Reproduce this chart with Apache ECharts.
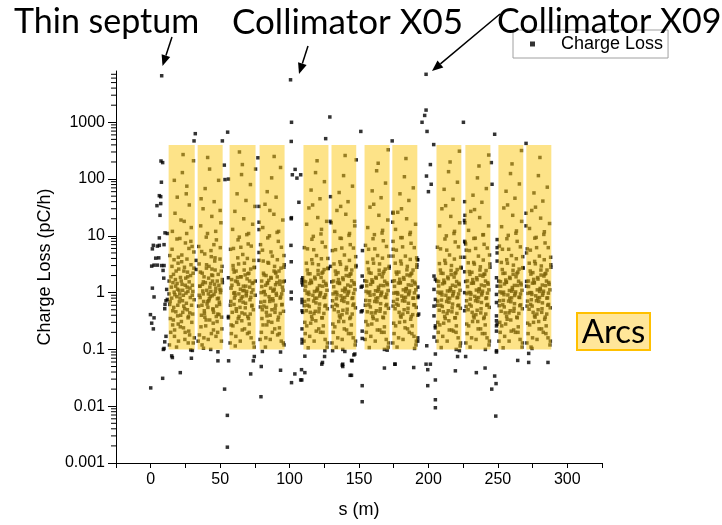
<!DOCTYPE html>
<html>
<head>
<meta charset="utf-8">
<script src="https://cdn.jsdelivr.net/npm/echarts@6/dist/echarts.min.js"></script>
<style>
  html, body { margin: 0; padding: 0; background: #fff; }
  #chart { width: 722px; height: 525px; }
</style>
</head>
<body>
<div id="chart"></div>
<script>
// Axis ranges and tick values
const sRange = [-25, 325];
const lossRange = [0.001, 8000];
const sTickStep = 25;
const decadeTicks = [0.001, 0.01, 0.1, 1, 10, 100, 1000];
const minorSteps = [2, 3, 4, 5, 6, 7, 8, 9];

// Arc sections [s start, s end] and the loss span they cover
const arcBands = [
  [12.9, 31.7], [33.8, 51.8], [56.8, 75.5], [78.4, 96.4],
  [110, 128], [130.2, 148], [154, 172], [174, 192],
  [205.8, 223.7], [226.6, 244.6], [250.4, 268.3], [270.5, 288.5]
];
const arcLossSpan = [0.1, 400];

// Losses outside the arcs: injection septum, collimators, straight sections
const lossStraights = [
  [7.9,6600],[100.7,5600],[101.4,1000],[101.2,460],[129,1240],[126,515],[32.1,630],[31.2,470],
  [55.4,670],[51.6,470],[77.2,237],[75.5,150],[7.4,208],[8.6,195],[7.7,88],[6.2,51],[7.2,49],
  [7.2,37],[4.5,34],[6.7,23],[10.3,11.3],[12,11],[6.2,9.2],[1.9,6.8],[1.2,5.9],[53,176],[53.5,98],
  [104,148],[102,119],[105.3,104],[108,119],[106.7,39],[101.2,20],[101,6.8],[129.5,49],[129.5,18],
  [130,17],[198.3,7000],[198.3,1640],[197.3,1320],[195.4,1000],[199,690],[203.8,405],[151.3,690],
  [173.9,470],[171,328],[148,218],[225.2,1000],[247.7,615],[270.3,425],[267,318],[222.3,310],
  [243.4,265],[245.3,195],[245.8,81],[201.4,180],[198.6,113],[202,81],[200,60],[226.1,40],
  [226.3,23],[226,18.7],[226.3,17],[226.5,7.7],[226.8,7.2],[270.3,25],[270.3,15],[174.6,26],
  [174.3,17.4],[146.8,18],[4.8,6.6],[6.2,6.8],[9.6,7],[3.6,4.05],[5.8,4.1],[0.7,2.93],[2.4,3.05],
  [4.8,3.05],[7.9,3.0],[9.6,3.0],[8.9,2.46],[9.4,1.8],[11.5,1.14],[12.0,0.76],[10.3,0.62],
  [11.0,0.72],[10.1,0.52],[1.2,1.2],[2.4,0.84],[-0.2,0.41],[2.4,0.36],[0.7,0.29],[1.9,0.23],
  [11.0,0.17],[10.1,0.136],[9.6,0.104],[9.1,0.1],[15.1,0.077],[15.6,0.072],[28.8,0.098],[30,0.096],
  [29.3,0.07],[21.3,0.039],[8.6,0.031],[0,0.021],[32.6,3.7],[32.6,2.56],[43.2,0.1],[48.4,0.091],
  [48.4,0.063],[53.2,0.02],[55.2,0.0069],[55.2,0.0019],[56.1,0.063],[72,0.037],[73.9,0.063],
  [74.6,0.075],[79.6,0.05],[79.4,0.0147],[80.4,0.092],[93.5,0.09],[93.5,0.043],[101.2,3.5],
  [101.2,1.02],[101.2,0.78],[103.8,0.037],[108.6,0.044],[108.8,0.029],[111,0.039],[108,0.029],
  [111,0.076],[109,0.48],[109,0.23],[109,0.15],[109,0.13],[109,0.76],[109,0.67],[109,1.7],[109,1.5],
  [125.4,0.095],[125.2,0.075],[123.7,0.059],[123.2,0.055],[129.5,2.9],[138.3,0.1],[138.3,0.055],
  [138.3,0.05],[143.6,0.035],[131,0.095],[146.3,0.08],[145,0.063],[144.6,0.035],[152.3,0.023],
  [152.3,0.012],[152.3,0.48],[152.3,0.21],[152.3,0.156],[152.3,1.96],[152.3,1.3],[168.3,0.1],
  [170.3,0.097],[168.3,0.047],[175.8,0.055],[189.4,0.048],[191.9,3.8],[192.5,0.87],[193,0.42],
  [198.8,0.116],[198.3,0.055],[201.4,0.055],[199.5,0.044],[199.5,0.023],[205,0.083],[205,0.029],
  [205,0.013],[205,0.0094],[204,1.96],[204,1.14],[204,0.58],[204,0.39],[204,0.165],[220,0.1],
  [221,0.075],[222.3,0.095],[219.4,0.042],[226.8,0.075],[234.5,0.039],[240.8,0.047],[241,0.1],
  [247.7,0.034],[248.7,0.025],[245.6,0.02],[248.5,0.0067],[249,1.83],[249,0.93],[249,0.67],
  [249,0.39],[249,0.32],[249,0.26],[249,0.21],[249,0.095],[249,0.09],[264.3,0.064],[272.2,0.085],
  [272.2,0.059],[274.6,0.104],[286.1,0.059],[226.1,4.2],[226.1,2.33],[226.1,1.0],[226.1,0.48],
  [226.1,8],[205,1.71],[205,0.76],[205,0.26],[205,0.24],[101.3,20.9],[78,33],[78,17.4],[78,12.9],
  [78,3.7],[78,5.1],[56,100],[56,1.83],[56,0.38],[56,0.36],[101.4,0.026],[109.5,1.83],[109.5,1.36],
  [109.5,0.45],[139.8,0.092],[147,0.083],[144.6,0.064],[137.9,0.053],[151.6,1.25],[151.6,0.46],
  [152.5,5.5],[174.6,25],[174.6,8],[174.6,4.4],[176,0.055],[190,0.104],[192.3,3.8],[192.3,1.25],
  [192.3,0.82],[192.3,0.4],[192.3,0.16],[192.3,0.14],[249.5,8.6],[249.5,6.2],[249.5,5.0],
  [249.5,3.6],[249.5,1.3],[249.5,0.28],[270.7,5.0],[270.7,1.3]
];

// Losses along the arcs, one list per arc section
const lossArc1 = [[13.5,0.12],[14.2,0.35],[15.1,0.8],[16.0,1.5],[17.2,0.22],[18.3,2.4],[19.5,0.6],[20.4,1.1],[21.6,0.4],[22.3,3.5],[23.5,0.9],[24.6,0.15],[25.2,1.8],[26.4,0.5],[27.5,6],[28.3,1.2],[29.6,0.3],[30.5,2.2],[31.2,0.75],[13.8,4.5],[15.6,12],[17.5,25],[19.1,48],[21.0,9],[22.8,130],[24.1,18],[26.0,75],[27.8,35],[29.2,14],[30.8,210],[14.6,1.9],[16.6,0.55],[18.0,1.3],[19.8,0.28],[20.9,0.95],[22.0,1.6],[23.1,0.45],[24.3,2.8],[25.7,0.65],[26.8,1.05],[28.0,0.18],[29.0,3.1],[30.2,0.42],[14.0,0.7],[15.3,2.9],[16.3,0.33],[17.8,1.7],[18.8,0.85],[19.9,4.2],[21.3,0.25],[22.6,1.4],[23.8,0.58],[25.0,7.5],[26.2,1.25],[27.2,0.38],[28.7,2.0],[29.9,0.9],[31.0,5.2],[16.8,3.8],[20.2,2.6],[24.8,0.2],[27.0,0.13],[18.6,0.11],[21.8,19],[25.6,55],[17.0,95],[28.9,8],[23.3,270],[15.9,0.48],[19.3,1.15],[22.9,0.72],[26.6,1.9],[30.0,1.35],[13.2,0.95],[31.4,0.16],
  [13.7,0.62],[14.9,1.25],[15.8,0.27],[16.4,2.1],[17.4,0.92],[18.1,0.46],[19.0,1.45],[19.7,3.3],[20.6,0.69],[21.4,1.85],[22.1,0.31],[23.0,1.1],[23.9,2.4],[24.4,0.52],[25.4,0.98],[26.1,3.9],[26.9,0.36],[27.7,1.55],[28.5,0.82],[29.4,0.6],[30.3,1.05],[31.1,2.7],[14.4,0.2],[17.1,0.17],[20.0,0.14],[23.6,0.24],[27.4,0.21],[30.6,0.13],[15.4,5.8],[18.9,8.8],[22.4,4.6],[25.9,11],[29.8,6.5],[16.9,1.02],[21.1,0.8],[24.9,1.35],[28.1,0.44],[19.4,0.39],[26.5,2.3],[13.3,1.6]];
const lossArc2 = [[34.2,0.14],[35.0,0.9],[35.8,2.3],[36.5,0.4],[37.3,1.4],[38.1,0.7],[38.9,4.8],[39.6,0.26],[40.4,1.1],[41.2,0.55],[42.0,2.9],[42.9,0.85],[43.7,0.19],[44.5,1.6],[45.3,0.45],[46.1,3.6],[46.9,1.2],[47.8,0.31],[48.6,2.1],[49.4,0.68],[50.2,1.0],[51.0,0.37],[51.5,1.7],[34.6,6.5],[36.0,15],[37.7,30],[39.2,68],[40.9,11],[42.4,150],[44.0,22],[45.7,40],[47.3,8.5],[48.9,95],[50.5,17],[35.3,1.3],[36.9,0.6],[38.4,1.9],[39.9,0.33],[41.5,0.95],[43.1,1.45],[44.8,0.52],[46.4,2.5],[48.0,0.78],[49.8,1.15],[51.2,0.23],[34.9,3.2],[37.0,0.12],[38.6,0.48],[40.1,2.7],[41.8,0.72],[43.4,5.5],[45.0,0.29],[46.6,1.05],[48.3,0.42],[49.9,3.9],[35.6,0.82],[37.9,1.55],[40.6,0.63],[42.6,1.25],[44.2,0.88],[47.0,0.17],[49.1,1.35],[50.8,2.4],[36.3,45],[41.0,240],[45.5,7],[50.0,28],[38.0,0.105],[43.9,2.05],[47.5,0.58],
  [34.5,0.58],[35.5,1.3],[36.2,0.25],[37.1,2.2],[37.8,0.95],[38.7,0.43],[39.4,1.5],[40.2,3.1],[41.0,0.7],[41.7,1.8],[42.5,0.33],[43.3,1.05],[44.1,2.6],[44.9,0.5],[45.6,0.93],[46.3,4.1],[47.2,0.38],[47.9,1.6],[48.8,0.8],[49.6,0.62],[50.4,1.1],[51.3,2.9],[35.1,0.18],[38.3,0.16],[41.4,0.15],[45.2,0.22],[48.2,0.2],[50.9,0.14],[36.7,5.3],[40.0,9.5],[43.6,4.3],[46.8,12],[50.1,6.2],[37.5,1.07],[42.2,0.78],[46.0,1.4],[49.2,0.41],[39.0,0.37],[44.6,2.0],[51.6,1.5]];
const lossArc3 = [[57.2,0.13],[57.9,1.2],[58.7,0.45],[59.5,2.6],[60.3,0.8],[61.1,1.6],[61.9,0.3],[62.7,4.1],[63.5,0.95],[64.3,0.55],[65.1,1.9],[65.9,0.22],[66.7,1.3],[67.5,3.3],[68.3,0.65],[69.1,1.05],[69.9,0.38],[70.7,2.2],[71.5,0.75],[72.3,0.16],[73.1,1.45],[73.9,0.5],[74.7,2.8],[75.2,0.9],[57.5,5.8],[59.0,13],[60.6,27],[62.2,55],[63.8,9.5],[65.4,120],[67.0,20],[68.6,42],[70.2,7.2],[71.8,80],[73.4,16],[75.0,33],[58.3,1.7],[60.0,0.62],[61.5,2.4],[63.0,0.35],[64.6,1.15],[66.2,0.85],[67.8,0.42],[69.4,1.75],[71.0,0.28],[72.6,1.0],[74.2,3.7],[58.0,0.27],[59.8,0.98],[61.6,0.52],[63.2,1.4],[64.9,6.3],[66.5,0.68],[68.0,2.05],[69.7,0.19],[71.3,1.25],[72.9,0.6],[74.5,0.11],[59.3,3.0],[62.5,1.85],[65.7,0.44],[68.9,0.88],[72.0,2.6],[60.9,0.115],[66.0,180],[70.5,11],[63.9,300],[73.7,1.5],[57.7,0.7],[67.2,1.1],
  [57.4,0.6],[58.5,1.35],[59.2,0.26],[60.1,2.3],[60.8,0.9],[61.7,0.47],[62.4,1.55],[63.3,3.2],[64.1,0.72],[64.8,1.9],[65.6,0.32],[66.4,1.08],[67.3,2.5],[68.1,0.54],[68.8,0.96],[69.6,4.0],[70.4,0.35],[71.2,1.6],[72.1,0.83],[72.8,0.58],[73.6,1.12],[74.4,2.75],[58.1,0.19],[61.3,0.17],[64.5,0.14],[67.6,0.23],[70.9,0.2],[74.0,0.13],[59.6,6],[62.9,8.5],[66.3,4.7],[69.2,10.5],[72.4,6.6],[60.5,1.0],[65.2,0.8],[68.5,1.3],[71.7,0.42],[63.6,0.38],[70.0,2.15],[75.3,1.6]];
const lossArc4 = [[78.8,0.15],[79.6,1.0],[80.4,0.5],[81.2,2.2],[82.0,0.7],[82.8,1.35],[83.6,0.27],[84.4,3.4],[85.2,0.85],[86.0,0.4],[86.8,1.8],[87.6,0.2],[88.4,1.1],[89.2,2.9],[90.0,0.6],[90.8,1.5],[91.6,0.33],[92.4,2.4],[93.2,0.8],[94.0,0.14],[94.8,1.25],[95.6,0.47],[96.1,3.1],[79.1,7],[80.7,14],[82.3,36],[83.9,60],[85.5,10],[87.1,105],[88.7,24],[90.3,48],[91.9,8],[93.5,160],[95.1,19],[79.9,1.6],[81.5,0.58],[83.1,2.0],[84.7,0.31],[86.3,1.2],[87.9,0.78],[89.5,0.45],[91.1,1.9],[92.7,0.24],[94.3,0.95],[95.9,4.5],[80.1,0.35],[81.8,1.05],[83.4,0.55],[85.0,1.65],[86.6,5.2],[88.1,0.72],[89.8,2.3],[91.4,0.18],[93.0,1.4],[94.6,0.62],[96.0,0.12],[81.0,3.6],[84.1,1.45],[87.3,0.5],[90.6,0.9],[93.8,2.7],[82.6,0.11],[88.9,250],[92.1,12],[85.8,28],[95.3,1.55],[79.4,0.68],[89.0,1.15],
  [79.0,0.56],[80.0,1.28],[80.9,0.27],[81.6,2.05],[82.5,0.92],[83.3,0.45],[84.0,1.5],[84.9,3.3],[85.7,0.7],[86.5,1.85],[87.2,0.3],[88.0,1.06],[88.8,2.4],[89.6,0.52],[90.4,0.97],[91.2,3.8],[92.0,0.37],[92.9,1.6],[93.6,0.84],[94.4,0.61],[95.2,1.1],[95.9,2.8],[79.7,0.2],[82.9,0.16],[86.1,0.15],[89.3,0.23],[92.6,0.19],[95.5,0.13],[80.5,5.6],[84.3,9.2],[87.6,4.4],[91.0,11.5],[94.1,6.3],[81.3,1.03],[85.9,0.77],[89.9,1.38],[93.3,0.43],[83.7,0.39],[90.1,2.2],[96.2,1.6]];
const lossArc5 = [[110.4,0.14],[111.2,1.1],[112.0,0.48],[112.8,2.5],[113.6,0.75],[114.4,1.45],[115.2,0.29],[116.0,3.8],[116.8,0.9],[117.6,0.43],[118.4,1.75],[119.2,0.21],[120.0,1.2],[120.8,3.1],[121.6,0.63],[122.4,1.0],[123.2,0.36],[124.0,2.3],[124.8,0.82],[125.6,0.15],[126.4,1.35],[127.2,0.52],[127.7,2.7],[110.7,6.2],[112.3,16],[113.9,31],[115.5,64],[117.1,9.8],[118.7,130],[120.3,21],[121.9,45],[123.5,7.7],[125.1,90],[126.7,18],[111.5,1.55],[113.1,0.6],[114.7,2.15],[116.3,0.34],[117.9,1.05],[119.5,0.8],[121.1,0.46],[122.7,1.85],[124.3,0.26],[125.9,0.92],[127.5,4.0],[111.0,0.3],[112.6,0.97],[114.2,0.57],[115.8,1.5],[117.4,5.7],[119.0,0.66],[120.6,2.1],[122.2,0.2],[123.8,1.3],[125.4,0.58],[127.0,0.11],[112.1,3.3],[115.3,1.65],[118.5,0.47],[121.7,0.87],[124.9,2.55],[113.4,0.107],[119.8,210],[123.0,13],[116.6,35],[126.1,1.45],[110.9,0.7],[120.1,1.12],
  [110.6,0.59],[111.6,1.3],[112.4,0.26],[113.3,2.15],[114.0,0.93],[114.9,0.45],[115.6,1.52],[116.5,3.25],[117.3,0.71],[118.1,1.87],[118.9,0.32],[119.6,1.07],[120.5,2.45],[121.3,0.53],[122.0,0.95],[122.9,3.95],[123.6,0.36],[124.5,1.58],[125.3,0.83],[126.0,0.6],[126.9,1.1],[127.6,2.65],[111.3,0.19],[114.5,0.17],[117.7,0.14],[121.0,0.23],[124.1,0.2],[127.3,0.13],[112.9,5.9],[116.1,8.7],[119.4,4.5],[122.6,10.8],[125.8,6.4],[113.7,1.02],[118.2,0.79],[121.5,1.33],[124.7,0.43],[115.9,0.38],[123.3,2.2],[110.2,1.6]];
const lossArc6 = [[130.6,0.13],[131.4,0.95],[132.2,0.5],[133.0,2.4],[133.8,0.78],[134.6,1.5],[135.4,0.31],[136.2,3.5],[137.0,0.88],[137.8,0.41],[138.6,1.7],[139.4,0.23],[140.2,1.15],[141.0,2.8],[141.8,0.66],[142.6,1.05],[143.4,0.35],[144.2,2.15],[145.0,0.79],[145.8,0.16],[146.6,1.4],[147.4,0.54],[147.8,3.0],[130.9,5.5],[132.5,12],[134.1,28],[135.7,58],[137.3,9],[138.9,115],[140.5,24],[142.1,40],[143.7,7],[145.3,75],[146.9,15],[131.7,1.6],[133.3,0.62],[134.9,2.25],[136.5,0.36],[138.1,1.1],[139.7,0.82],[141.3,0.44],[142.9,1.95],[144.5,0.27],[146.1,0.97],[147.6,4.3],[131.2,0.28],[132.8,1.02],[134.4,0.59],[136.0,1.45],[137.6,6.1],[139.2,0.7],[140.8,2.0],[142.4,0.19],[144.0,1.3],[145.6,0.6],[147.2,0.12],[132.0,3.2],[135.2,1.7],[138.4,0.49],[141.6,0.9],[144.8,2.5],[133.6,0.109],[140.0,260],[143.2,11],[136.8,33],[146.4,1.5],[131.0,0.72],[139.9,1.2],
  [130.8,0.57],[131.8,1.27],[132.6,0.25],[133.5,2.1],[134.2,0.91],[135.1,0.46],[135.8,1.48],[136.7,3.15],[137.5,0.73],[138.3,1.82],[139.0,0.31],[139.8,1.04],[140.7,2.55],[141.5,0.51],[142.2,0.99],[143.1,3.7],[143.9,0.37],[144.7,1.62],[145.5,0.81],[146.2,0.63],[147.0,1.13],[147.7,2.85],[131.5,0.2],[134.7,0.16],[137.9,0.15],[141.1,0.22],[144.3,0.19],[147.5,0.14],[133.1,5.7],[136.4,9.1],[139.5,4.6],[142.8,10.2],[146.0,6.1],[133.9,1.01],[138.2,0.8],[141.9,1.36],[145.1,0.42],[135.9,0.39],[143.5,2.1],[130.4,1.55]];
const lossArc7 = [[154.4,0.15],[155.2,1.05],[156.0,0.46],[156.8,2.6],[157.6,0.72],[158.4,1.4],[159.2,0.28],[160.0,3.9],[160.8,0.92],[161.6,0.44],[162.4,1.8],[163.2,0.22],[164.0,1.25],[164.8,3.2],[165.6,0.64],[166.4,1.02],[167.2,0.37],[168.0,2.35],[168.8,0.84],[169.6,0.15],[170.4,1.38],[171.2,0.53],[171.7,2.9],[154.7,6.8],[156.3,14],[157.9,32],[159.5,62],[161.1,10.5],[162.7,140],[164.3,23],[165.9,47],[167.5,8.2],[169.1,85],[170.7,19],[155.5,1.58],[157.1,0.61],[158.7,2.2],[160.3,0.35],[161.9,1.08],[163.5,0.81],[165.1,0.47],[166.7,1.9],[168.3,0.25],[169.9,0.94],[171.5,4.4],[155.0,0.31],[156.6,0.99],[158.2,0.56],[159.8,1.55],[161.4,5.9],[163.0,0.69],[164.6,2.1],[166.2,0.2],[167.8,1.33],[169.4,0.59],[171.0,0.11],[156.1,3.4],[159.3,1.68],[162.5,0.48],[165.7,0.89],[168.9,2.6],[157.4,0.108],[163.8,190],[167.0,12.5],[160.6,36],[170.1,1.48],[154.9,0.73],[164.1,1.14],
  [154.6,0.6],[155.6,1.32],[156.4,0.27],[157.3,2.25],[158.0,0.9],[158.9,0.44],[159.6,1.53],[160.5,3.3],[161.3,0.7],[162.1,1.86],[162.9,0.33],[163.6,1.06],[164.5,2.48],[165.3,0.52],[166.0,0.96],[166.9,4.05],[167.6,0.36],[168.5,1.59],[169.3,0.82],[170.0,0.62],[170.9,1.09],[171.6,2.7],[155.3,0.2],[158.5,0.17],[161.7,0.14],[165.0,0.22],[168.1,0.2],[171.3,0.13],[156.9,5.8],[160.1,8.9],[163.4,4.5],[166.6,11.2],[169.8,6.5],[157.7,1.03],[162.2,0.78],[165.5,1.34],[168.7,0.44],[159.9,0.38],[167.3,2.18],[154.2,1.62]];
const lossArc8 = [[174.4,0.13],[175.2,0.98],[176.0,0.52],[176.8,2.3],[177.6,0.76],[178.4,1.48],[179.2,0.3],[180.0,3.6],[180.8,0.87],[181.6,0.42],[182.4,1.72],[183.2,0.24],[184.0,1.18],[184.8,2.9],[185.6,0.65],[186.4,1.07],[187.2,0.34],[188.0,2.2],[188.8,0.8],[189.6,0.17],[190.4,1.42],[191.2,0.55],[191.7,3.1],[174.7,5.8],[176.3,13],[177.9,26],[179.5,55],[181.1,9.3],[182.7,110],[184.3,20],[185.9,42],[187.5,7.4],[189.1,70],[190.7,16],[175.5,1.62],[177.1,0.63],[178.7,2.3],[180.3,0.37],[181.9,1.12],[183.5,0.83],[185.1,0.45],[186.7,1.98],[188.3,0.26],[189.9,0.99],[191.5,4.1],[175.0,0.29],[176.6,1.0],[178.2,0.6],[179.8,1.5],[181.4,6.4],[183.0,0.71],[184.6,2.05],[186.2,0.2],[187.8,1.35],[189.4,0.61],[191.0,0.12],[176.1,3.3],[179.3,1.72],[182.5,0.5],[185.7,0.92],[188.9,2.5],[177.4,0.11],[183.8,230],[187.0,11.5],[180.6,30],[190.1,1.52],[174.9,0.7],[184.1,1.17],
  [174.6,0.58],[175.6,1.29],[176.4,0.26],[177.3,2.12],[178.0,0.94],[178.9,0.45],[179.6,1.49],[180.5,3.2],[181.3,0.72],[182.1,1.84],[182.9,0.31],[183.6,1.05],[184.5,2.52],[185.3,0.53],[186.0,0.98],[186.9,3.85],[187.6,0.38],[188.5,1.61],[189.3,0.8],[190.0,0.61],[190.9,1.12],[191.6,2.8],[175.3,0.19],[178.5,0.16],[181.7,0.15],[185.0,0.23],[188.1,0.19],[191.3,0.14],[176.9,5.6],[180.1,9.3],[183.4,4.4],[186.6,10.6],[189.8,6.2],[177.7,1.0],[182.2,0.81],[185.5,1.37],[188.7,0.41],[179.9,0.39],[187.3,2.12],[174.2,1.58]];
const lossArc9 = [[206.2,0.14],[207.0,1.02],[207.8,0.49],[208.6,2.5],[209.4,0.74],[210.2,1.43],[211.0,0.29],[211.8,3.7],[212.6,0.9],[213.4,0.43],[214.2,1.76],[215.0,0.22],[215.8,1.21],[216.6,3.0],[217.4,0.63],[218.2,1.04],[219.0,0.36],[219.8,2.25],[220.6,0.81],[221.4,0.16],[222.2,1.39],[223.0,0.53],[223.4,2.8],[206.5,6.3],[208.1,15],[209.7,30],[211.3,66],[212.9,10],[214.5,135],[216.1,22],[217.7,44],[219.3,7.8],[220.9,88],[222.5,17],[207.3,1.57],[208.9,0.6],[210.5,2.18],[212.1,0.35],[213.7,1.07],[215.3,0.8],[216.9,0.46],[218.5,1.88],[220.1,0.26],[221.7,0.95],[223.2,4.2],[206.8,0.3],[208.4,0.97],[210.0,0.57],[211.6,1.5],[213.2,5.6],[214.8,0.68],[216.4,2.08],[218.0,0.21],[219.6,1.3],[221.2,0.59],[222.8,0.115],[207.9,3.25],[211.1,1.66],[214.3,0.48],[217.5,0.88],[220.7,2.55],[209.2,0.108],[215.6,200],[218.8,12],[212.4,34],[221.9,1.46],[206.7,0.71],[215.9,1.13],
  [206.4,0.6],[207.4,1.31],[208.2,0.27],[209.1,2.2],[209.8,0.91],[210.7,0.46],[211.4,1.51],[212.3,3.28],[213.1,0.7],[213.9,1.88],[214.7,0.32],[215.4,1.07],[216.3,2.46],[217.1,0.54],[217.8,0.96],[218.7,3.9],[219.4,0.36],[220.3,1.57],[221.1,0.83],[221.8,0.6],[222.7,1.1],[223.5,2.7],[207.1,0.2],[210.3,0.17],[213.5,0.14],[216.8,0.22],[219.9,0.2],[223.1,0.13],[208.7,5.9],[211.9,8.8],[215.2,4.6],[218.4,11],[221.6,6.4],[209.5,1.02],[214.0,0.79],[217.3,1.35],[220.5,0.43],[211.7,0.38],[219.1,2.16],[206.0,1.6]];
const lossArc10 = [[227.0,0.13],[227.8,0.96],[228.6,0.5],[229.4,2.35],[230.2,0.77],[231.0,1.46],[231.8,0.31],[232.6,3.4],[233.4,0.86],[234.2,0.41],[235.0,1.69],[235.8,0.23],[236.6,1.16],[237.4,2.85],[238.2,0.67],[239.0,1.06],[239.8,0.35],[240.6,2.12],[241.4,0.79],[242.2,0.16],[243.0,1.41],[243.8,0.55],[244.2,3.2],[227.3,5.6],[228.9,12.5],[230.5,27],[232.1,52],[233.7,9.1],[235.3,105],[236.9,21],[238.5,39],[240.1,7.1],[241.7,68],[243.3,15],[228.1,1.61],[229.7,0.62],[231.3,2.28],[232.9,0.36],[234.5,1.11],[236.1,0.82],[237.7,0.44],[239.3,1.95],[240.9,0.27],[242.5,0.98],[244.0,4.6],[227.6,0.28],[229.2,1.01],[230.8,0.58],[232.4,1.47],[234.0,6.0],[235.6,0.7],[237.2,2.02],[238.8,0.19],[240.4,1.32],[242.0,0.6],[243.6,0.12],[228.7,3.35],[231.9,1.7],[235.1,0.49],[238.3,0.91],[241.5,2.45],[230.0,0.11],[236.4,170],[239.6,10.5],[233.2,29],[242.7,1.5],[227.5,0.72],[236.7,1.16],
  [227.2,0.57],[228.2,1.28],[229.0,0.26],[229.9,2.1],[230.6,0.93],[231.5,0.45],[232.2,1.5],[233.1,3.18],[233.9,0.72],[234.7,1.83],[235.5,0.31],[236.2,1.04],[237.1,2.5],[237.9,0.52],[238.6,0.98],[239.5,3.75],[240.2,0.37],[241.1,1.6],[241.9,0.81],[242.6,0.62],[243.5,1.12],[244.3,2.8],[227.9,0.19],[231.1,0.16],[234.3,0.15],[237.6,0.23],[240.7,0.19],[243.9,0.14],[229.5,5.5],[232.7,9.0],[236.0,4.4],[239.2,10.4],[242.4,6.1],[230.3,1.0],[234.8,0.8],[238.1,1.36],[241.3,0.42],[232.5,0.39],[239.9,2.1],[226.8,1.57]];
const lossArc11 = [[250.8,0.14],[251.6,1.03],[252.4,0.47],[253.2,2.55],[254.0,0.73],[254.8,1.42],[255.6,0.28],[256.4,3.8],[257.2,0.91],[258.0,0.44],[258.8,1.78],[259.6,0.21],[260.4,1.23],[261.2,3.05],[262.0,0.64],[262.8,1.03],[263.6,0.37],[264.4,2.3],[265.2,0.83],[266.0,0.15],[266.8,1.37],[267.6,0.52],[268.0,2.75],[251.1,6.6],[252.7,14.5],[254.3,31],[255.9,61],[257.5,10.2],[259.1,125],[260.7,23],[262.3,46],[263.9,8],[265.5,82],[267.1,18],[251.9,1.56],[253.5,0.61],[255.1,2.2],[256.7,0.34],[258.3,1.09],[259.9,0.81],[261.5,0.47],[263.1,1.9],[264.7,0.25],[266.3,0.95],[267.9,4.3],[251.4,0.3],[253.0,0.98],[254.6,0.56],[256.2,1.53],[257.8,5.8],[259.4,0.69],[261.0,2.1],[262.6,0.2],[264.2,1.34],[265.8,0.59],[267.4,0.11],[252.5,3.4],[255.7,1.67],[258.9,0.48],[262.1,0.89],[265.3,2.6],[253.8,0.107],[260.2,185],[263.4,12.2],[257.0,35],[266.5,1.47],[251.3,0.72],[260.5,1.14],
  [251.0,0.59],[252.0,1.3],[252.8,0.26],[253.7,2.18],[254.4,0.92],[255.3,0.44],[256.0,1.52],[256.9,3.3],[257.7,0.71],[258.5,1.86],[259.3,0.33],[260.0,1.06],[260.9,2.47],[261.7,0.53],[262.4,0.96],[263.3,3.95],[264.0,0.36],[264.9,1.59],[265.7,0.82],[266.4,0.61],[267.3,1.1],[268.1,2.7],[251.7,0.2],[254.9,0.17],[258.1,0.14],[261.4,0.22],[264.5,0.2],[267.7,0.13],[253.3,5.8],[256.5,8.9],[259.8,4.5],[263.0,11.1],[266.2,6.4],[254.1,1.02],[258.6,0.79],[261.9,1.34],[265.1,0.43],[256.3,0.38],[263.7,2.17],[250.6,1.6]];
const lossArc12 = [[270.9,0.13],[271.7,0.97],[272.5,0.51],[273.3,2.4],[274.1,0.75],[274.9,1.47],[275.7,0.3],[276.5,3.55],[277.3,0.88],[278.1,0.42],[278.9,1.73],[279.7,0.23],[280.5,1.19],[281.3,2.95],[282.1,0.66],[282.9,1.06],[283.7,0.34],[284.5,2.18],[285.3,0.8],[286.1,0.16],[286.9,1.4],[287.7,0.54],[288.1,3.1],[271.2,5.9],[272.8,13.5],[274.4,28],[276.0,57],[277.6,9.4],[279.2,115],[280.8,20.5],[282.4,41],[284.0,7.5],[285.6,72],[287.2,16.5],[272.0,1.6],[273.6,0.62],[275.2,2.25],[276.8,0.37],[278.4,1.12],[280.0,0.82],[281.6,0.45],[283.2,1.96],[284.8,0.26],[286.4,0.98],[288.0,4.2],[271.5,0.29],[273.1,1.0],[274.7,0.58],[276.3,1.49],[277.9,6.2],[279.5,0.7],[281.1,2.04],[282.7,0.2],[284.3,1.33],[285.9,0.6],[287.5,0.12],[272.6,3.3],[275.8,1.71],[279.0,0.5],[282.2,0.9],[285.4,2.5],[273.9,0.11],[280.3,240],[283.5,11.8],[277.1,32],[286.7,1.51],[271.4,0.71],[280.6,1.15],
  [271.1,0.58],[272.1,1.28],[272.9,0.27],[273.8,2.12],[274.5,0.93],[275.4,0.45],[276.1,1.5],[277.0,3.22],[277.8,0.72],[278.6,1.84],[279.4,0.31],[280.1,1.05],[281.0,2.5],[281.8,0.52],[282.5,0.98],[283.4,3.8],[284.1,0.37],[285.0,1.6],[285.8,0.81],[286.5,0.62],[287.4,1.12],[288.2,2.8],[271.8,0.19],[275.0,0.16],[278.2,0.15],[281.5,0.23],[284.6,0.19],[287.8,0.14],[273.4,5.6],[276.6,9.1],[279.9,4.4],[283.1,10.6],[286.3,6.2],[274.2,1.0],[278.7,0.8],[282.0,1.36],[285.2,0.42],[276.4,0.39],[283.8,2.12],[270.7,1.58]];

const lossArcs = [lossArc1, lossArc2, lossArc3, lossArc4, lossArc5, lossArc6,
                  lossArc7, lossArc8, lossArc9, lossArc10, lossArc11, lossArc12];
const chargeLoss = lossStraights.concat(...lossArcs);

// Log-axis minor tick positions (2..9 of each decade, inside the axis range)
const minorTickValues = [];
decadeTicks.forEach(d => {
  minorSteps.forEach(m => {
    const v = +(d * m).toPrecision(3);
    if (v < lossRange[1]) minorTickValues.push([sRange[0], v]);
  });
});

const FONT = '"Liberation Sans", Arial, sans-serif';
const NOTE_FONT = 'Lato, Carlito, sans-serif';

// Straight arrow with a filled head, from (x1, y1) to the tip (x2, y2)
function arrow(x1, y1, x2, y2) {
  const dx = x2 - x1, dy = y2 - y1, len = Math.hypot(dx, dy);
  const ux = dx / len, uy = dy / len, headL = 11, headW = 4.5;
  const bx = x2 - ux * headL, by = y2 - uy * headL;
  return [
    { type: 'line', z: 100, shape: { x1, y1, x2: bx, y2: by }, style: { stroke: '#000', lineWidth: 1.5 } },
    { type: 'polygon', z: 100, shape: { points: [[x2, y2], [bx - uy * headW, by + ux * headW], [bx + uy * headW, by - ux * headW]] }, style: { fill: '#000' } }
  ];
}

const chart = echarts.init(document.getElementById('chart'), null, { renderer: 'canvas' });

chart.setOption({
  animation: false,
  backgroundColor: '#fff',
  grid: { left: 116, top: 71, width: 486, height: 392, containLabel: false },
  legend: {
    data: [{ name: 'Charge Loss', icon: 'rect' }],
    left: 513, top: 30,
    itemWidth: 5, itemHeight: 5,
    padding: [5, 5, 5, 17],
    borderColor: '#a0a0a0', borderWidth: 1,
    backgroundColor: '#fff',
    textStyle: { fontFamily: FONT, fontSize: 18, color: '#000', padding: [0, 0, 0, 21] },
    z: 5
  },
  xAxis: {
    type: 'value', min: sRange[0], max: sRange[1], interval: sTickStep,
    name: 's (m)', nameLocation: 'middle', nameGap: 38,
    nameTextStyle: { fontFamily: FONT, fontSize: 18, color: '#000' },
    axisLine: { onZero: false, lineStyle: { color: '#000', width: 1 } },
    axisTick: { inside: false, length: 5, lineStyle: { color: '#000' } },
    axisLabel: {
      fontFamily: FONT, fontSize: 16, color: '#000', margin: 9,
      formatter: v => (v % 50 === 0 ? String(v) : '')
    },
    splitLine: { show: false }
  },
  yAxis: {
    type: 'log', logBase: 10, min: lossRange[0], max: lossRange[1],
    name: 'Charge Loss (pC/h)', nameLocation: 'middle', nameGap: 62, nameRotate: 90,
    nameTextStyle: { fontFamily: FONT, fontSize: 18, color: '#000' },
    axisLine: { show: true, onZero: false, lineStyle: { color: '#000', width: 1 } },
    axisTick: { show: true, inside: false, length: 8, lineStyle: { color: '#000' } },
    axisLabel: {
      fontFamily: FONT, fontSize: 16, color: '#000', margin: 11, showMaxLabel: false,
      formatter: v => {
        const r = +(+v).toPrecision(6);
        return decadeTicks.includes(r) ? String(r) : '';
      }
    },
    splitLine: { show: false }
  },
  series: [
    {
      name: 'Charge Loss', type: 'scatter', data: chargeLoss,
      symbol: 'rect', symbolSize: 3.5,
      itemStyle: { color: '#000' }, z: 2, silent: true
    },
    {
      name: 'arcs', type: 'custom', z: 3, silent: true,
      data: arcBands.map(b => [b[0], b[1], arcLossSpan[0], arcLossSpan[1]]),
      encode: { x: [0, 1], y: [2, 3] },
      renderItem: (params, api) => {
        const p0 = api.coord([api.value(0), api.value(3)]);
        const p1 = api.coord([api.value(1), api.value(2)]);
        return {
          type: 'rect',
          shape: { x: p0[0], y: p0[1], width: p1[0] - p0[0], height: p1[1] - p0[1] },
          style: { fill: 'rgba(251,199,18,0.5)' }
        };
      }
    },
    {
      name: 'minor ticks', type: 'custom', z: 4, silent: true, clip: false,
      data: minorTickValues,
      encode: { x: 0, y: 1 },
      renderItem: (params, api) => {
        const p = api.coord([api.value(0), api.value(1)]);
        return {
          type: 'line',
          shape: { x1: p[0] - 5, y1: p[1], x2: p[0], y2: p[1] },
          style: { stroke: '#000', lineWidth: 1 }
        };
      }
    }
  ],
  graphic: [
    { type: 'text', z: 100, left: 14, top: 5, style: { text: 'Thin septum', font: '34px ' + NOTE_FONT, fill: '#000' } },
    { type: 'text', z: 100, left: 232, top: 5, style: { text: 'Collimator X05', font: '35px ' + NOTE_FONT, fill: '#000' } },
    { type: 'text', z: 100, left: 497, top: 5, style: { text: 'Collimator X09', font: '34px ' + NOTE_FONT, fill: '#000' } },
    ...arrow(172, 37, 162.5, 66),
    ...arrow(308, 46, 299, 74),
    ...arrow(500, 14, 432, 71),
    {
      type: 'group', left: 576, top: 312, z: 100,
      children: [
        { type: 'rect', shape: { x: 0, y: 0, width: 73, height: 37 }, style: { fill: '#FFE699', stroke: '#FFC000', lineWidth: 2 } },
        { type: 'text', style: { text: 'Arcs', x: 36.5, y: 19, align: 'center', verticalAlign: 'middle', font: '33px ' + NOTE_FONT, fill: '#000' } }
      ]
    }
  ]
});
</script>
</body>
</html>
